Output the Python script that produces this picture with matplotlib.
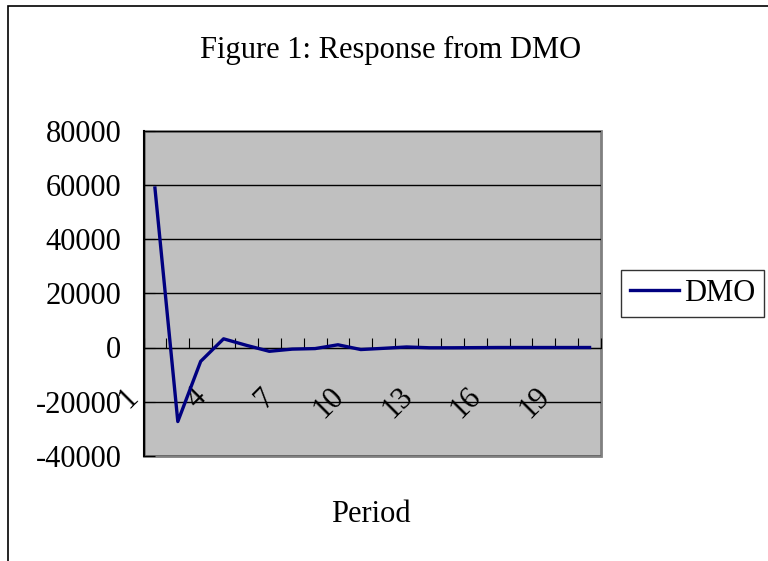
import matplotlib.pyplot as plt
from matplotlib.patches import Rectangle
from matplotlib.transforms import ScaledTranslation

plt.rcParams['font.family'] = ['Liberation Serif', 'DejaVu Serif']

# Данные
periods = list(range(1, 21))
dmo = [58800, -27300, -5100, 3200, 800, -1400, -600, -400, 1000, -750,
       -300, 200, -100, -100, -50, 0, 0, 0, 0, 0]
y_ticks = [-40000, -20000, 0, 20000, 40000, 60000, 80000]
x_label_periods = [1, 4, 7, 10, 13, 16, 19]

FS = 22

fig = plt.figure(figsize=(7.68, 5.61), dpi=100)
ax = fig.add_axes([143.5 / 768, 1 - 456 / 561, (601 - 143.5) / 768, (456 - 130.5) / 561])

ax.set_facecolor('#c0c0c0')
ax.patch.set_edgecolor('#808080')
ax.patch.set_linewidth(2)

ax.plot(periods, dmo, color='#000080', lw=2.4, label='DMO', zorder=3)

ax.set_xlim(0.5, 20.5)
ax.set_ylim(-40000, 80000)
ax.set_yticks(y_ticks)
ax.set_yticklabels([str(v) for v in y_ticks], fontsize=FS)
ax.yaxis.grid(True, color='black', lw=1)
ax.set_axisbelow(True)
ax.tick_params(axis='y', direction='in', length=8, pad=16, color='black')

# ось X проходит через ноль
ax.spines['bottom'].set_position(('data', 0))
ax.spines['top'].set_visible(False)
ax.spines['right'].set_visible(False)
ax.spines['left'].set_color('black')
ax.spines['left'].set_linewidth(1.5)
ax.spines['bottom'].set_color('black')

ax.set_xticks([p + 0.5 for p in range(0, 21)])
ax.set_xticklabels([])
ax.tick_params(axis='x', which='major', direction='in', length=7.5, color='black')
ax.set_xticks(x_label_periods, minor=True)
ax.set_xticklabels([str(p) for p in x_label_periods], minor=True, fontsize=FS,
                   rotation=45, ha='right', va='top')
ax.tick_params(axis='x', which='minor', length=0, pad=25)
offset = ScaledTranslation(-11 / 100, 0, fig.dpi_scale_trans)
for lbl in ax.get_xticklabels(minor=True):
    lbl.set_transform(lbl.get_transform() + offset)

fig.text(390.5 / 768, 1 - 50 / 561, 'Figure 1: Response from DMO', fontsize=FS,
         ha='center', va='center')
fig.text(371 / 768, 1 - 515 / 561, 'Period', fontsize=FS, ha='center', va='center')

fig.legend(loc='center left', bbox_to_anchor=(621 / 768, 1 - 293.5 / 561),
           fontsize=FS, frameon=True, fancybox=False, edgecolor='black',
           handlelength=1.6, handletextpad=0.15, borderpad=0.3, borderaxespad=0)

# рамка всей диаграммы
fig.add_artist(Rectangle((8 / 768, -0.1), 1.2, 1.1 - 6 / 561, transform=fig.transFigure,
                         fill=False, edgecolor='black', lw=1.2, clip_on=False))

fig.savefig('out.png', dpi=100)
